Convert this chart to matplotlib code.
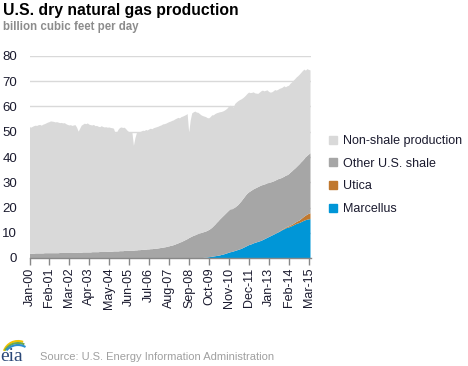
import matplotlib
matplotlib.use("Agg")
import matplotlib.pyplot as plt
from matplotlib.patches import Patch, Arc
import numpy as np

plt.rcParams['font.family'] = ['Liberation Sans', 'DejaVu Sans']

# monthly, Jan 2000 - Apr 2015 (billion cubic feet per day)
nonshale = [
    50.3, 49.9, 50.2, 50.5, 50.6, 50.5, 50.8, 50.9, 50.6, 51.0, 51.1, 51.4,  # 2000
    51.7, 51.9, 52.2, 52.1, 52.0, 51.8, 51.9, 51.7, 51.4, 51.5, 51.3, 51.4,  # 2001
    51.0, 50.7, 50.5, 50.6, 50.3, 50.4, 50.5, 49.5, 48.0, 49.1, 50.3, 50.6,  # 2002
    51.0, 50.8, 51.1, 50.6, 50.4, 50.2, 50.4, 49.9, 50.0, 49.7, 49.4, 49.8,  # 2003
    49.5, 49.3, 49.4, 49.1, 49.2, 49.0, 48.9, 48.6, 46.8, 47.0, 48.2, 48.8,  # 2004
    49.0, 48.8, 48.8, 48.2, 47.5, 46.9, 46.9, 46.9, 41.5, 44.5, 46.6, 46.6,  # 2005
    46.7, 46.9, 47.2, 47.0, 47.4, 47.1, 47.5, 47.7, 47.5, 47.8, 47.9, 48.1,  # 2006
    48.2, 48.4, 48.5, 48.8, 48.8, 48.9, 49.0, 49.2, 49.2, 49.4, 49.4, 49.6,  # 2007
    49.6, 49.7, 49.2, 49.5, 49.4, 49.4, 49.4, 49.5, 41.7, 46.3, 48.8, 48.9,  # 2008
    49.0, 48.3, 48.0, 47.3, 46.6, 46.1, 45.7, 45.3, 44.6, 44.2, 44.3, 44.5,  # 2009
    43.9, 43.8, 43.4, 43.0, 42.5, 42.0, 41.6, 41.3, 41.1, 41.0, 41.2, 41.0,  # 2010
    40.7, 40.0, 41.0, 41.1, 41.1, 40.8, 40.4, 40.0, 39.7, 39.5, 39.5, 39.5,  # 2011
    38.9, 38.6, 38.4, 37.7, 37.3, 36.9, 37.1, 37.3, 37.4, 36.9, 36.9, 36.8,  # 2012
    36.1, 35.7, 35.5, 35.7, 35.9, 35.4, 35.4, 35.6, 35.6, 35.6, 35.8, 35.0,  # 2013
    35.2, 35.0, 35.2, 35.2, 35.3, 35.4, 35.5, 35.4, 35.4, 35.4, 35.5, 35.4,  # 2014
    34.3, 34.3, 33.5, 32.8,                                                  # 2015
]

other_shale = [
    1.7, 1.7, 1.7, 1.7, 1.8, 1.8, 1.8, 1.8, 1.8, 1.8, 1.9, 1.9,
    1.9, 1.9, 1.9, 1.9, 1.9, 1.9, 1.9, 1.9, 2.0, 2.0, 2.0, 2.0,
    2.0, 2.0, 2.0, 2.0, 2.0, 2.1, 2.1, 2.1, 2.0, 2.1, 2.1, 2.2,
    2.2, 2.2, 2.2, 2.2, 2.2, 2.3, 2.3, 2.3, 2.3, 2.3, 2.4, 2.4,
    2.4, 2.4, 2.4, 2.5, 2.5, 2.5, 2.5, 2.6, 2.6, 2.6, 2.6, 2.7,
    2.7, 2.7, 2.8, 2.8, 2.8, 2.9, 2.9, 2.9, 2.9, 3.0, 3.0, 3.1,
    3.1, 3.2, 3.2, 3.3, 3.3, 3.4, 3.4, 3.5, 3.5, 3.6, 3.7, 3.7,
    3.8, 3.9, 4.0, 4.1, 4.2, 4.3, 4.5, 4.6, 4.8, 4.9, 5.1, 5.3,
    5.6, 5.8, 6.1, 6.3, 6.6, 6.9, 7.2, 7.5, 7.9, 8.2, 8.5, 8.8,
    9.0, 9.3, 9.5, 9.7, 9.9, 10.1, 10.2, 10.4, 10.6, 10.8, 11.1, 11.5,
    12.0, 12.5, 13.1, 13.6, 14.2, 14.6, 15.1, 15.5, 15.9, 16.3, 16.7, 17.0,
    16.9, 17.0, 17.2, 17.5, 17.8, 18.3, 18.8, 19.3, 19.8, 20.3, 20.7, 20.9,
    21.1, 21.3, 21.4, 21.5, 21.6, 21.7, 21.8, 21.9, 21.8, 21.7, 21.6, 21.6,
    21.4, 21.2, 21.2, 21.1, 21.1, 21.1, 21.05, 20.9, 20.65, 20.6, 20.55, 20.6,
    20.45, 20.7, 20.95, 21.2, 21.4, 21.5, 21.7, 22.0, 22.3, 22.5, 22.6, 22.8,
    23.1, 23.3, 23.5, 23.8,
]

utica = [0.0] * 162 + [
    0.05, 0.1, 0.15, 0.2, 0.25, 0.3,
    0.35, 0.4, 0.45, 0.5, 0.6, 0.7, 0.8, 0.9, 1.0, 1.2, 1.4, 1.6,
    1.8, 2.0, 2.2, 2.3,
]

marcellus = [0.0] * 114 + [
    0.1, 0.1, 0.2, 0.3, 0.4, 0.5,
    0.6, 0.7, 0.8, 0.9, 1.0, 1.2, 1.3, 1.5, 1.7, 1.9, 2.1, 2.3,
    2.4, 2.6, 2.8, 3.0, 3.2, 3.4, 3.6, 3.9, 4.2, 4.5, 4.8, 5.1,
    5.3, 5.5, 5.8, 6.0, 6.2, 6.4, 6.6, 6.8, 7.1, 7.4, 7.7, 8.0,
    8.3, 8.6, 8.9, 9.2, 9.5, 9.8, 10.1, 10.4, 10.8, 11.1, 11.4, 11.7,
    12.0, 12.1, 12.4, 12.6, 12.9, 13.2, 13.5, 13.7, 13.9, 14.2, 14.5, 14.8,
    15.0, 15.2, 15.3, 15.4,
]

tick_labels = ['Jan-00', 'Feb-01', 'Mar-02', 'Apr-03', 'May-04', 'Jun-05', 'Jul-06',
               'Aug-07', 'Sep-08', 'Oct-09', 'Nov-10', 'Dec-11', 'Jan-13', 'Feb-14', 'Mar-15']
series_names = ['Marcellus', 'Utica', 'Other U.S. shale', 'Non-shale production']
colors = ['#0096d7', '#c0782f', '#a6a6a6', '#d9d9d9']

months = np.arange(len(nonshale))

fig = plt.figure(figsize=(4.68, 3.66), dpi=100)
ax = fig.add_axes([29.5 / 468, 1 - 258 / 366, 281 / 468, 202 / 366])

ax.stackplot(months, marcellus, utica, other_shale, nonshale,
             colors=colors, linewidth=0, zorder=2)

ax.set_xlim(0, len(months) - 1)
ax.set_ylim(0, 80)
ax.set_yticks(range(0, 81, 10))
ax.set_xticks(np.arange(0, len(months), 13))
ax.set_xticklabels(tick_labels, rotation=90, fontsize=9)
ax.tick_params(axis='y', length=0, pad=9, labelsize=9.5, labelcolor='#1a1a2e')
ax.tick_params(axis='x', length=5, width=1, color='#888888', pad=2, labelcolor='#1a1a2e')
ax.grid(axis='y', color='#d9d9d9', linewidth=1, zorder=1)
ax.set_axisbelow(True)
for s in ['top', 'right', 'left']:
    ax.spines[s].set_visible(False)
ax.spines['bottom'].set_color('#888888')
ax.spines['bottom'].set_linewidth(1)
ax.spines['bottom'].set_zorder(3)

handles = [Patch(color=c) for c in colors][::-1]
fig.legend(handles, series_names[::-1], loc='center left',
           bbox_to_anchor=(318 / 468, 1 - 175 / 366), frameon=False,
           fontsize=9, handlelength=0.6, handleheight=0.6,
           handletextpad=0.5, labelspacing=0.85, labelcolor='#1a1a2e')

fig.text(3 / 468, 1 - 15 / 366, 'U.S. dry natural gas production',
         fontsize=11.3, fontweight='bold', color='#000000', va='baseline')
fig.text(3 / 468, 1 - 30 / 366, 'billion cubic feet per day',
         fontsize=8.3, fontweight='bold', color='#8c8c8c', va='baseline')
fig.text(40 / 468, 1 - 360 / 366, 'Source: U.S. Energy Information Administration',
         fontsize=8, color='#a0a0a0', va='baseline')

# eia logo
lax = fig.add_axes([0, 0, 32 / 468, 32 / 366])
lax.set_xlim(0, 32)
lax.set_ylim(0, 32)
lax.axis('off')
lax.text(0, 5, 'eia', fontsize=14, family='Liberation Serif', color='#2b4878', va='baseline')
lax.add_patch(Arc((18, 10), 30, 30, theta1=70, theta2=160, color='#f2c200', lw=1.5))
lax.add_patch(Arc((18, 8), 30, 30, theta1=65, theta2=150, color='#6aa84f', lw=1.5))
lax.add_patch(Arc((18, 6), 30, 30, theta1=60, theta2=140, color='#2d8fcf', lw=1.5))

fig.savefig('out.png', dpi=100)
